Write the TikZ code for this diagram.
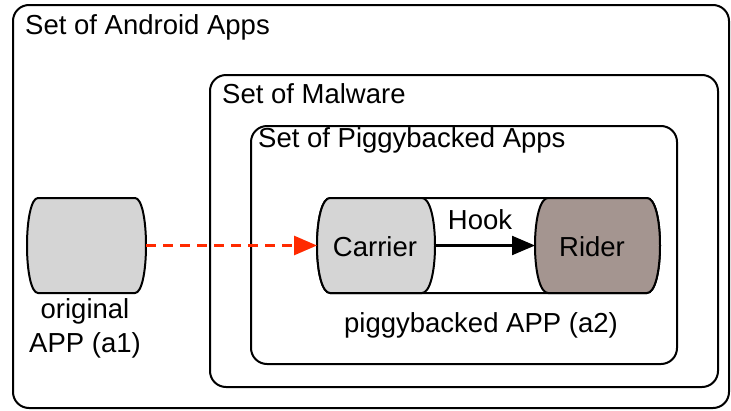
\documentclass[tikz,border=0pt]{standalone}
\usepackage{fontspec}
\setmainfont{Liberation Sans}
\usetikzlibrary{arrows.meta}
\definecolor{appgray}{RGB}{213,213,213}
\definecolor{ridercol}{RGB}{164,149,144}
\definecolor{arrowred}{RGB}{255,42,0}
\newcommand\appshape[6]{%
 \pgfmathsetmacro\appL{#1}\pgfmathsetmacro\appR{#2}%
 \pgfmathsetmacro\appT{#3}\pgfmathsetmacro\appB{#4}\pgfmathsetmacro\appK{#5}%
 \pgfmathsetmacro\appM{(\appT+\appB)/2}\pgfmathsetmacro\appQ{(\appB-\appT)*0.28}%
 \draw[#6] (\appL+\appK,\appT) -- (\appR-\appK,\appT)
   .. controls (\appR-0.4*\appK,\appT) and (\appR,\appM-\appQ) .. (\appR,\appM)
   .. controls (\appR,\appM+\appQ) and (\appR-0.4*\appK,\appB) .. (\appR-\appK,\appB)
   -- (\appL+\appK,\appB)
   .. controls (\appL+0.4*\appK,\appB) and (\appL,\appM+\appQ) .. (\appL,\appM)
   .. controls (\appL,\appM-\appQ) and (\appL+0.4*\appK,\appT) .. cycle;}
\tikzset{
  setbox/.style={draw, line width=2pt, rounded corners=16pt, anchor=north west, inner sep=0pt, outer sep=0pt},
  appbox/.style={inner sep=0pt, outer sep=0pt},
  txt/.style={font=\fontsize{27.5}{32}\selectfont, inner sep=0pt},
  shapeline/.style={line width=2pt},
}
\begin{document}
\begin{tikzpicture}[x=1pt,y=-1pt]
\useasboundingbox (0,0) rectangle (731,410);
% set boxes
\node[setbox, minimum width=716pt, minimum height=403pt] (android) at (13,5) {};
\node[setbox, minimum width=508pt, minimum height=312pt] (malware) at (210,75) {};
\node[setbox, minimum width=426pt, minimum height=238pt] (piggy) at (251,126) {};
\node[txt, anchor=base west] (tandroid) at (25,34) {Set of Android Apps};
\node[txt, anchor=base west] (tmalware) at (222,103) {Set of Malware};
\node[txt, anchor=base west] (tpiggy) at (258,147) {Set of Piggybacked Apps};
% original app
\appshape{27}{146}{198}{293}{11}{shapeline, fill=appgray}
\node[appbox, minimum width=119pt, minimum height=95pt] (orig) at (86.5,245.5) {};
\node[txt, anchor=base] (torig1) at (85,318) {original};
\node[txt, anchor=base] (torig2) at (85,352) {APP (a1)};
% piggybacked app
\appshape{317}{660}{198}{293}{13}{shapeline, fill=white}
\node[appbox, minimum width=343pt, minimum height=95pt] (pair) at (488.5,245.5) {};
\appshape{317}{435}{198}{293}{13}{shapeline, fill=appgray}
\node[appbox, minimum width=118pt, minimum height=95pt] (carrier) at (376,245.5) {};
\appshape{535}{660}{198}{293}{13}{shapeline, fill=ridercol}
\node[appbox, minimum width=125pt, minimum height=95pt] (rider) at (597.5,245.5) {};
\node[txt, anchor=base] (tcarrier) at (375,256) {Carrier};
\node[txt, anchor=base] (trider) at (592,256) {Rider};
\node[txt, anchor=base] (thook) at (480,229) {Hook};
\node[txt, anchor=base] (ta2) at (481,332) {piggybacked APP (a2)};
% connectors
\draw[line width=2.2pt, -{Triangle[length=23pt,width=19pt]}] (carrier.east) -- (rider.west);
\draw[arrowred, line width=2.8pt, dash pattern=on 10pt off 7pt, -{Triangle[length=23pt,width=19pt]}] (orig.east) -- (carrier.west);
\end{tikzpicture}
\end{document}
